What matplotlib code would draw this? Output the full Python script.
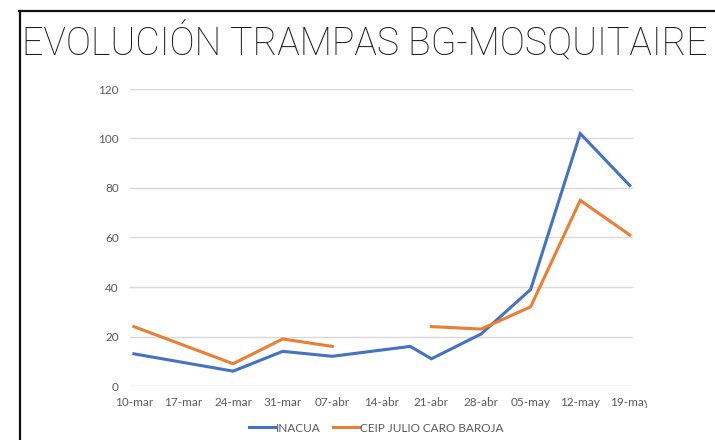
import matplotlib
matplotlib.use("Agg")
import matplotlib.pyplot as plt
from matplotlib.lines import Line2D
from matplotlib.transforms import Bbox, TransformedBbox
from datetime import datetime, timedelta
import numpy as np

# ---- data ----
sample_dates = ["2021-03-10", "2021-03-24", "2021-03-31", "2021-04-07", "2021-04-18",
                "2021-04-21", "2021-04-28", "2021-05-05", "2021-05-12", "2021-05-19"]
inacua = [13, 6, 14, 12, 16, 11, 21, 39, 102, 81]
ceip = [24, 9, 19, 16, None, 24, 23, 32, 75, 61]
tick_dates = ["2021-03-10", "2021-03-17", "2021-03-24", "2021-03-31", "2021-04-07", "2021-04-14",
              "2021-04-21", "2021-04-28", "2021-05-05", "2021-05-12", "2021-05-19"]
tick_labels = ["10-mar", "17-mar", "24-mar", "31-mar", "07-abr", "14-abr",
               "21-abr", "28-abr", "05-may", "12-may", "19-may"]
y_ticks = [0, 20, 40, 60, 80, 100, 120]
series_names = ["INACUA", "CEIP JULIO CARO BAROJA"]
title = "EVOLUCIÓN TRAMPAS BG-MOSQUITAIRE"

W, H = 715, 440
fig = plt.figure(figsize=(W / 100, H / 100), dpi=100)
fig.patch.set_facecolor("white")

ax = fig.add_axes([130 / W, (H - 386) / H, (633 - 130) / W, (386 - 89) / H])

x = [datetime.strptime(d, "%Y-%m-%d") for d in sample_dates]
xt = [datetime.strptime(d, "%Y-%m-%d") for d in tick_dates]
y1 = np.array(inacua, dtype=float)
y2 = np.array([np.nan if v is None else v for v in ceip], dtype=float)

blue = "#4472C4"
orange = "#ED7D31"
ax.plot(x, y1, color=blue, lw=2.2, solid_joinstyle="miter", label=series_names[0], zorder=3)
ax.plot(x, y2, color=orange, lw=2.2, solid_joinstyle="miter", label=series_names[1], zorder=3)

ax.set_ylim(0, 120)
ax.set_yticks(y_ticks)
ax.set_xlim(xt[0] - timedelta(days=0.55), xt[-1] + timedelta(days=0.45))
ax.set_xticks(xt)
ax.set_xticklabels(tick_labels)
ax.grid(axis="y", color="#D9D9D9", lw=1)
ax.set_axisbelow(True)
for s in ax.spines.values():
    s.set_visible(False)
ax.tick_params(length=0, colors="#595959", labelsize=8.5)
ax.tick_params(axis="y", pad=8)
ax.tick_params(axis="x", pad=8)
for lbl in ax.get_xticklabels() + ax.get_yticklabels():
    lbl.set_fontfamily("Lato")
    lbl.set_color("#595959")

clipbox = TransformedBbox(Bbox([[0, 0], [647 / W, 1]]), fig.transFigure)
for lbl in ax.get_xticklabels():
    lbl.set_clip_box(clipbox)
    lbl.set_clip_on(True)

leg = fig.legend(loc="center", bbox_to_anchor=(376 / W, 12 / H), ncol=2, frameon=False,
                 prop={"family": "Lato", "size": 8.5}, handlelength=2.2, handletextpad=0.1,
                 columnspacing=1.0)
for t in leg.get_texts():
    t.set_color("#595959")

# borders
fig.add_artist(Line2D([19 / W, 1], [1 - 11 / H, 1 - 11 / H], transform=fig.transFigure,
                      color="#111111", lw=1.6))
fig.add_artist(Line2D([20 / W, 20 / W], [0, 1 - 11 / H], transform=fig.transFigure,
                      color="#111111", lw=1.6))

# title, fit width
tt = fig.text(22 / W, (H - 54) / H, title, fontsize=30, family="Roboto", fontweight="light",
              color="#1a1a1a", va="baseline", ha="left")
fig.canvas.draw()
r = fig.canvas.get_renderer()
wpx = tt.get_window_extent(r).width
tt.set_fontsize(30 * (687 / wpx))

fig.savefig("out.png", dpi=100)
